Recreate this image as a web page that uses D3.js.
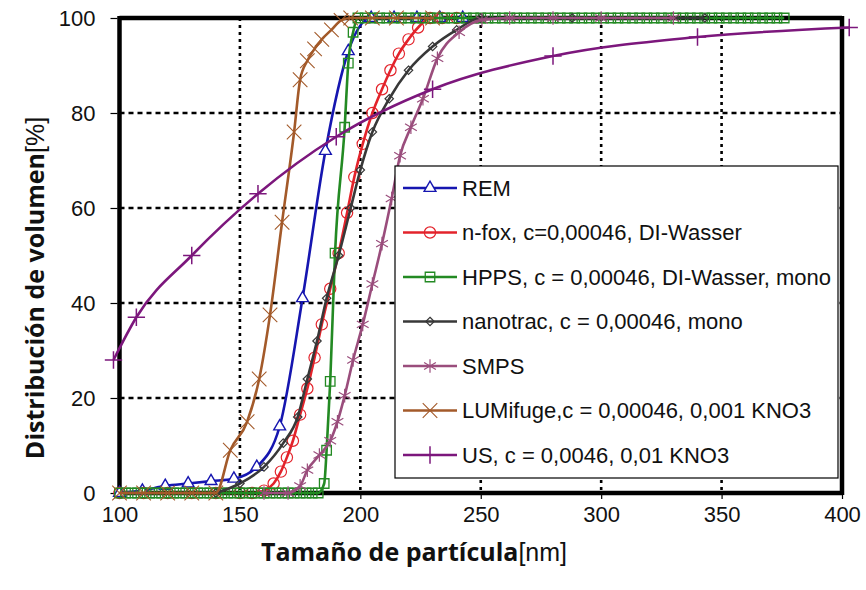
<!DOCTYPE html>
<html>
<head>
<meta charset="utf-8">
<script src="https://cdn.jsdelivr.net/npm/d3@7"></script>
<style>
  body { margin: 0; background: #fff; }
  svg { display: block; }
</style>
</head>
<body>
<svg id="chart" width="866" height="590"></svg>
<script>
// Cumulative volume distribution vs. particle size (nm), one array pair per method
const remX   = [100, 109.5, 119, 128.5, 138, 147.5, 157, 166.5, 176, 185.5, 195, 204.5, 214, 223.5, 233, 242.5];
const remY   = [0, 0.5, 1.5, 2, 2.5, 3, 5.5, 14, 41, 72, 93, 100, 100, 100, 100, 100];

const nfoxX  = [100, 110, 120, 130, 140, 150, 155, 160, 164, 167, 169.5, 172, 175, 178, 181, 184, 187.5, 191, 194.5, 197.5, 201, 205, 209, 212.5, 216, 220, 224, 229, 234, 240];
const nfoxY  = [0, 0, 0, 0, 0, 0, 0, 0.5, 2, 4.5, 7.5, 11, 16.5, 22, 28.5, 35.5, 43, 50.5, 59, 66.5, 73.5, 80, 85, 89, 92.5, 95.5, 98, 100, 100, 100];

const hppsX  = [100, 102.5, 105, 107.5, 110, 112.5, 115, 117.5, 120, 122.5, 125, 127.5, 130, 132.5, 135, 137.5, 140, 142.5, 145, 147.5,
                150, 152.5, 155, 157.5, 160, 162.5, 165, 167.5, 170, 172.5, 175, 177.5, 180, 182.5, 185, 186, 187.5, 189.5, 193.5, 195, 197, 199,
                202, 205, 208, 211, 214, 217, 220, 223, 226, 229, 232, 235, 238, 241, 244, 247, 250, 253, 256, 259, 262, 265, 268, 271,
                274, 277, 280, 283, 286, 289, 292, 295, 298, 301, 304, 307, 310, 313, 316, 319, 322, 325, 328, 331, 334, 337, 340, 343,
                346, 349, 352, 355, 358, 361, 364, 367, 370, 373, 376];
const hppsY  = [0, 0, 0, 0, 0, 0, 0, 0, 0, 0, 0, 0, 0, 0, 0, 0, 0, 0, 0, 0,
                0, 0, 0, 0, 0, 0, 0, 0, 0, 0, 0, 0, 0, 0, 2, 9, 23.5, 50.5, 77, 90.5, 97, 100,
                100, 100, 100, 100, 100, 100, 100, 100, 100, 100, 100, 100, 100, 100, 100, 100, 100, 100, 100, 100, 100, 100, 100, 100,
                100, 100, 100, 100, 100, 100, 100, 100, 100, 100, 100, 100, 100, 100, 100, 100, 100, 100, 100, 100, 100, 100, 100, 100,
                100, 100, 100, 100, 100, 100, 100, 100, 100, 100, 100];

const nanoX  = [140, 150, 160, 168, 174, 178, 182, 186, 191, 196, 200, 205, 212, 220, 230, 240, 250, 288, 343];
const nanoY  = [0, 2, 5.5, 10.5, 16, 24, 32, 41, 50, 60, 68, 76, 83, 89, 94, 97.5, 100, 100, 100];

const smpsX  = [160, 170, 175, 178, 183, 187.5, 190.5, 193.5, 197, 201, 205, 209, 213, 216.5, 221, 226, 232, 241, 250.5, 262, 280, 300, 330];
const smpsY  = [0, 0, 1.5, 4.8, 8, 11, 15, 20.5, 28, 35.5, 44, 52.5, 62, 71, 77, 83, 91.5, 97, 99.6, 100, 100, 100, 100];

const lumiX  = [100, 110, 120, 130, 140, 146, 153, 158, 162.5, 167.5, 172.5, 175, 178, 181, 184, 188, 192, 196, 205, 215, 230];
const lumiY  = [0, 0, 0, 0, 0, 9, 15, 24, 37.5, 57, 76, 87, 91, 93.5, 95.5, 97.5, 99.5, 100, 100, 100, 100];

const usX    = [97.5, 107, 130, 157.5, 190, 230, 280, 340, 403];
const usY    = [28, 37, 50, 63, 75, 85, 92, 96, 98];

const seriesNames = [
  "REM",
  "n-fox, c=0,00046, DI-Wasser",
  "HPPS, c = 0,00046, DI-Wasser, mono",
  "nanotrac, c = 0,00046, mono",
  "SMPS",
  "LUMifuge,c = 0,00046, 0,001 KNO3",
  "US, c = 0,0046, 0,01 KNO3"
];
const xTicks = [100, 150, 200, 250, 300, 350, 400];
const yTicks = [0, 20, 40, 60, 80, 100];

// Styling per series
const styles = [
  { color: "#1616b0", symbol: d3.symbolTriangle2, size: 100, fill: "#fff", sw: 1.4 },
  { color: "#e3232b", symbol: d3.symbolCircle,    size: 100, fill: "none", sw: 1.2 },
  { color: "#238a23", symbol: d3.symbolSquare2,   size: 115, fill: "none", sw: 1.3 },
  { color: "#383838", symbol: d3.symbolDiamond2,  size: 45,  fill: "none", sw: 1.2 },
  { color: "#9a4d7c", symbol: d3.symbolAsterisk,  size: 130, fill: "none", sw: 1.2 },
  { color: "#a35a2a", symbol: d3.symbolTimes,     size: 140, fill: "none", sw: 1.1 },
  { color: "#7c177c", symbol: d3.symbolPlus,      size: 100, fill: "none", sw: 1.5 }
];

const series = [
  [remX, remY], [nfoxX, nfoxY], [hppsX, hppsY], [nanoX, nanoY],
  [smpsX, smpsY], [lumiX, lumiY], [usX, usY]
].map(([xs, ys], i) => ({
  name: seriesNames[i],
  style: styles[i],
  points: xs.map((v, j) => ({ x: v, y: ys[j] }))
}));

const svg = d3.select("#chart");
const plotL = 119.5, plotR = 842, plotT = 18, plotB = 493;

const x = d3.scaleLinear().domain([100, 400]).range([plotL, plotR]);
const y = d3.scaleLinear().domain([0, 100]).range([plotB, plotT]);

// Dotted grid
const grid = svg.append("g");
grid.selectAll("line.h").data(yTicks.filter(t => t > 0 && t < 100)).join("line")
  .attr("x1", plotL).attr("x2", plotR)
  .attr("y1", d => y(d)).attr("y2", d => y(d))
  .attr("stroke", "#000").attr("stroke-width", 2.6).attr("stroke-dasharray", "5,4");
grid.selectAll("line.v").data(xTicks.filter(t => t > 100 && t < 400)).join("line")
  .attr("x1", d => x(d)).attr("x2", d => x(d))
  .attr("y1", plotT).attr("y2", plotB)
  .attr("stroke", "#000").attr("stroke-width", 2.6).attr("stroke-dasharray", "3,4");

// Plot frame
const frame = svg.append("g").attr("stroke", "#000").attr("stroke-width", 4.5);
frame.append("line").attr("x1", plotL).attr("x2", plotR).attr("y1", plotT).attr("y2", plotT);
frame.append("line").attr("x1", plotL).attr("x2", plotR).attr("y1", plotB).attr("y2", plotB);
frame.append("line").attr("x1", plotL).attr("x2", plotL).attr("y1", plotT - 2).attr("y2", plotB + 2);
frame.append("line").attr("x1", plotR).attr("x2", plotR).attr("y1", plotT - 2).attr("y2", plotB + 2);

// Axes (ticks + labels)
const yAxis = svg.append("g").attr("transform", `translate(${plotL - 2},0)`)
  .call(d3.axisLeft(y).tickValues(yTicks).tickSize(7).tickPadding(15));
const xAxis = svg.append("g").attr("transform", `translate(0,${plotB + 2})`)
  .call(d3.axisBottom(x).tickValues(xTicks).tickSize(4).tickPadding(7));
[yAxis, xAxis].forEach(a => {
  a.select(".domain").remove();
  a.selectAll(".tick line").attr("stroke", "#000").attr("stroke-width", 1.2);
  a.selectAll(".tick text").attr("font-family", "'Liberation Sans', Arial, sans-serif")
    .attr("font-size", 22).attr("fill", "#111");
});

// Series lines (smoothed) and markers
const line = d3.line().x(d => x(d.x)).y(d => y(d.y)).curve(d3.curveMonotoneX);
const plot = svg.append("g");
series.forEach(s => {
  const g = plot.append("g");
  g.append("path").datum(s.points).attr("d", line)
    .attr("fill", "none").attr("stroke", s.style.color).attr("stroke-width", 2.6)
    .attr("stroke-linejoin", "round");
  g.selectAll("path.m").data(s.points).join("path")
    .attr("class", "m")
    .attr("transform", d => `translate(${x(d.x)},${y(d.y)})`)
    .attr("d", d3.symbol().type(s.style.symbol).size(s.style.size))
    .attr("fill", s.style.fill).attr("stroke", s.style.color).attr("stroke-width", s.style.sw);
});

// Legend
const lg = svg.append("g");
const lgX = 395, lgY = 166, lgW = 443, lgH = 312;
lg.append("rect").attr("x", lgX).attr("y", lgY).attr("width", lgW).attr("height", lgH)
  .attr("fill", "#fff").attr("stroke", "#000").attr("stroke-width", 1.2);
const rowY = d3.scaleLinear().domain([0, 6]).range([188, 455]);
series.forEach((s, i) => {
  const cy = rowY(i);
  lg.append("line").attr("x1", 403).attr("x2", 457).attr("y1", cy).attr("y2", cy)
    .attr("stroke", s.style.color).attr("stroke-width", 2.6);
  lg.append("path").attr("transform", `translate(430,${cy})`)
    .attr("d", d3.symbol().type(s.style.symbol).size(s.style.size))
    .attr("fill", s.style.fill).attr("stroke", s.style.color).attr("stroke-width", s.style.sw);
  lg.append("text").attr("x", 462).attr("y", cy).attr("dy", "0.35em")
    .attr("font-family", "'Liberation Sans', Arial, sans-serif").attr("font-size", 22)
    .attr("fill", "#111").text(s.name);
});

// Axis titles
const xt = svg.append("text").attr("x", 414).attr("y", 561).attr("text-anchor", "middle")
  .attr("font-family", "'Open Sans', sans-serif").attr("font-size", 25).attr("fill", "#111");
xt.append("tspan").attr("font-weight", "bold").text("Tamaño de partícula");
xt.append("tspan").attr("font-family", "'Liberation Sans', Arial, sans-serif").text("[nm]");

const yt = svg.append("text").attr("transform", "translate(44,288) rotate(-90)")
  .attr("text-anchor", "middle")
  .attr("font-family", "'Open Sans', sans-serif").attr("font-size", 25).attr("fill", "#111");
yt.append("tspan").attr("font-weight", "bold").text("Distribución de volumen");
yt.append("tspan").attr("font-family", "'Liberation Sans', Arial, sans-serif").text("[%]");
</script>
</body>
</html>
